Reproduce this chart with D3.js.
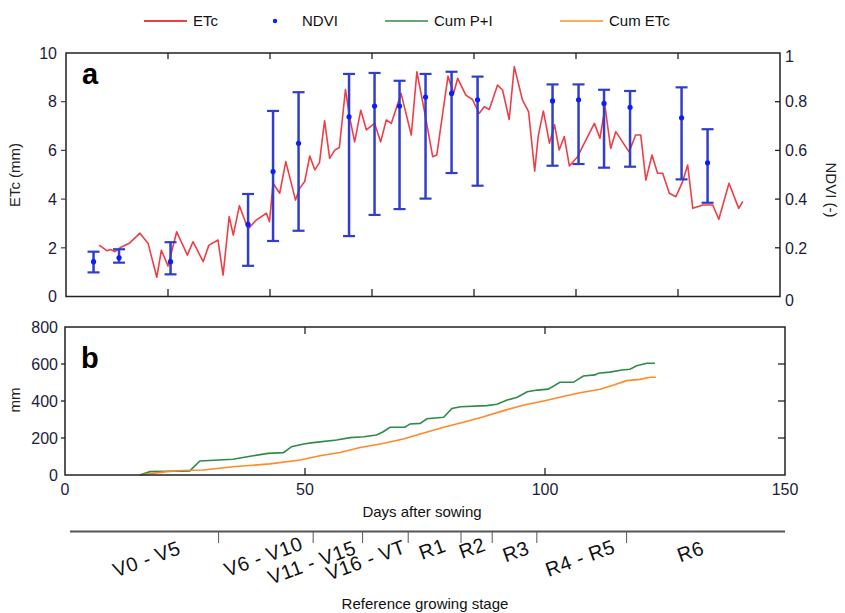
<!DOCTYPE html>
<html><head><meta charset="utf-8">
<script src="https://cdn.jsdelivr.net/npm/d3@7"></script>
<style>
html,body{margin:0;padding:0;background:#fff;}
svg text{font-family:"Liberation Sans",Arial,sans-serif;}
</style></head>
<body><svg id="c" width="845" height="613"></svg>
<script>
// ---------- DATA ----------
const etcDays = [6.5,8.0,8.75,9.6,10.6,12.5,14.5,16.1,17.8,18.7,20.0,21.7,23.8,24.9,26.9,28.0,29.8,30.8,32.0,32.8,34.0,35.7,37.3,39.3,39.9,40.6,41.9,43.1,45.0,45.8,46.8,47.8,48.8,49.7,50.7,51.7,52.7,53.6,54.8,55.6,56.6,57.8,58.9,60.5,61.7,62.8,63.8,65.7,67.7,68.8,70.3,71.9,72.7,74.9,76.0,76.8,78.4,79.7,81.0,82.0,83.0,84.6,85.6,86.9,87.9,89.5,90.7,91.9,92.6,93.6,94.8,95.8,96.7,97.7,98.7,100.3,103.6,104.7,105.7,106.8,107.8,110.4,111.7,112.7,113.7,114.9,116.0,117.0,118.3,119.6,120.9,121.9,122.9,124.9,126.8,128.0,130.0,131.9,132.7];
const etcValues = [2.11,1.88,1.93,1.84,2.0,2.2,2.6,2.18,0.79,1.9,1.25,2.66,1.7,2.25,1.43,2.1,2.32,0.88,3.28,2.52,3.73,2.77,3.14,3.42,3.07,4.65,4.24,5.54,3.96,4.44,4.72,5.77,5.2,5.5,7.22,5.67,6.01,6.12,8.5,7.38,6.35,7.65,6.84,7.11,6.35,7.25,7.11,8.34,6.63,9.23,7.59,5.74,5.81,9.05,8.34,8.96,8.27,8.09,7.52,7.79,7.68,8.68,8.48,7.27,9.44,8.07,7.59,5.15,6.6,7.62,6.3,7.05,6.02,6.57,5.36,5.74,7.11,6.5,7.79,6.08,6.77,5.94,6.63,6.63,4.78,5.81,5.06,5.06,4.24,4.1,4.72,5.4,3.62,3.76,3.76,3.17,4.65,3.62,3.9];

const ndviDays = [5.4,10.4,20.5,35.7,40.6,45.6,55.5,60.5,65.4,70.5,75.6,80.7,95.4,100.5,105.5,110.6,120.7,125.8];
const ndviMean = [0.143,0.159,0.143,0.296,0.513,0.629,0.738,0.782,0.782,0.819,0.834,0.808,0.803,0.808,0.793,0.777,0.734,0.549];
const ndviHigh = [0.184,0.194,0.223,0.421,0.762,0.839,0.914,0.918,0.886,0.914,0.923,0.903,0.871,0.871,0.849,0.844,0.859,0.687];
const ndviLow  = [0.099,0.139,0.091,0.126,0.228,0.270,0.248,0.335,0.359,0.402,0.507,0.455,0.537,0.544,0.529,0.533,0.481,0.385];

const cumPIDays = [15.6,17.7,21.2,24.4,26.0,28.1,35.0,39.2,42.3,45.5,47.2,49.7,51.7,56.6,59.4,62.2,64.9,66.3,67.7,70.8,71.9,74.0,75.4,78.9,80.6,82.4,87.9,90.0,92.1,94.2,96.3,98.4,100.7,103.1,105.9,108.0,110.4,111.1,113.5,116.0,117.7,119.1,121.2,122.9];
const cumPI = [0,18,20,21,22,76,85,104,117,121,153,168,175,189,202,207,216,234,258,258,276,279,304,312,360,369,375,382,405,420,450,459,464,501,501,535,541,550,556,568,572,590,604,604];

const cumETcDays = [15.6,21.2,24.4,28.8,35.0,42.7,49.0,53.1,57.3,61.5,65.7,70.5,74.0,78.9,83.0,87.2,91.4,95.6,99.7,103.1,107.3,111.5,114.3,117.0,119.8,121.9,123.1];
const cumETc = [0,18,24,27,45,60,81,104,122,149,168,195,222,258,285,315,348,378,400,420,445,463,486,510,517,528,528];

const stageNames = ["V0 - V5","V6 - V10","V11 - V15","V16 - VT","R1","R2","R3","R4 - R5","R6"];
const stageCenters = [17.0,41.3,51.4,62.6,76.5,84.8,93.9,107.3,130.3];
const stageBounds = [32.0,51.7,62.0,71.5,82.5,89.0,98.3,117.0];

const etcTicks = [0,2,4,6,8,10];
const ndviTicks = [0,0.2,0.4,0.6,0.8,1];
const topDayTicks = [20,40,60,80,100,120];
const mmTicks = [0,200,400,600,800];
const dayTicks = [0,50,100,150];

const legendNames = ["ETc","NDVI","Cum P+I","Cum ETc"];

// ---------- STYLE ----------
const C_ETC = "#ef3e46", C_NDVI = "#2f3fcb", C_DOT = "#0a1eff", C_PI = "#2f8a4a", C_CETC = "#ff8a26";

const svg = d3.select("#c");
svg.append("rect").attr("width",845).attr("height",613).attr("fill","#fff");

// ---------- PANEL A ----------
const xa = d3.scaleLinear().domain([0,140]).range([66,780]);
const ya = d3.scaleLinear().domain([0,10]).range([296.5,53]);
const yn = d3.scaleLinear().domain([0,1]).range([296.5,53]);

const ga = svg.append("g");
ga.append("path").datum(etcDays.map((d,i)=>[d,etcValues[i]]))
  .attr("fill","none").attr("stroke",C_ETC).attr("stroke-width",1.6).attr("stroke-linejoin","round")
  .attr("d", d3.line().x(d=>xa(d[0])).y(d=>ya(d[1])));
const eb = ga.selectAll("g.eb").data(ndviDays.map((d,i)=>({d,m:ndviMean[i],lo:ndviLow[i],hi:ndviHigh[i]}))).join("g");
eb.append("line").attr("x1",d=>xa(d.d)).attr("x2",d=>xa(d.d)).attr("y1",d=>yn(d.lo)).attr("y2",d=>yn(d.hi))
  .attr("stroke",C_NDVI).attr("stroke-width",2.5);
eb.append("line").attr("x1",d=>xa(d.d)-6).attr("x2",d=>xa(d.d)+6).attr("y1",d=>yn(d.lo)).attr("y2",d=>yn(d.lo))
  .attr("stroke",C_NDVI).attr("stroke-width",2.2);
eb.append("line").attr("x1",d=>xa(d.d)-6).attr("x2",d=>xa(d.d)+6).attr("y1",d=>yn(d.hi)).attr("y2",d=>yn(d.hi))
  .attr("stroke",C_NDVI).attr("stroke-width",2.2);
eb.append("circle").attr("cx",d=>xa(d.d)).attr("cy",d=>yn(d.m)).attr("r",2.6).attr("fill",C_DOT);

ga.append("rect").attr("x",66).attr("y",53).attr("width",714).attr("height",243.5)
  .attr("fill","none").attr("stroke","#222").attr("stroke-width",1.5);
topDayTicks.forEach(t=>{
  ga.append("line").attr("x1",xa(t)).attr("x2",xa(t)).attr("y1",53).attr("y2",59).attr("stroke","#222").attr("stroke-width",1.3);
  ga.append("line").attr("x1",xa(t)).attr("x2",xa(t)).attr("y1",296.5).attr("y2",289).attr("stroke","#222").attr("stroke-width",1.3);
});
etcTicks.forEach(t=>{
  if(t>0 && t<10) ga.append("line").attr("x1",61).attr("x2",66).attr("y1",ya(t)).attr("y2",ya(t)).attr("stroke","#444").attr("stroke-width",1.2);
  ga.append("text").attr("x",57).attr("y",ya(t)).attr("dy","0.36em").attr("text-anchor","end")
    .attr("font-size",16).attr("fill","#1c1c3a").text(t);
});
ndviTicks.forEach(t=>{
  if(t>0 && t<1) ga.append("line").attr("x1",775).attr("x2",780).attr("y1",yn(t)).attr("y2",yn(t)).attr("stroke","#222").attr("stroke-width",1.3);
  ga.append("text").attr("x",785).attr("y",yn(t)+(t===0?4:(t===1?3:0))).attr("dy","0.36em").attr("text-anchor","start")
    .attr("font-size",16).attr("fill","#1c1c3a").text(t);
});
ga.append("text").attr("transform","translate(20,175) rotate(-90)").attr("text-anchor","middle")
  .attr("font-size",15).attr("fill","#222").text("ETc (mm)");
ga.append("text").attr("transform","translate(826,190) rotate(90)").attr("text-anchor","middle")
  .attr("font-size",15).attr("fill","#222").text("NDVI (-)");
ga.append("text").attr("x",82).attr("y",84).attr("font-size",29).attr("font-weight","bold").attr("fill","#000").text("a");

// ---------- PANEL B ----------
const xb = d3.scaleLinear().domain([0,150]).range([65,785]);
const yb = d3.scaleLinear().domain([0,800]).range([475,327]);
const gb = svg.append("g");
gb.append("path").datum(cumPIDays.map((d,i)=>[d,cumPI[i]]))
  .attr("fill","none").attr("stroke",C_PI).attr("stroke-width",1.6)
  .attr("d", d3.line().x(d=>xb(d[0])).y(d=>yb(d[1])));
gb.append("path").datum(cumETcDays.map((d,i)=>[d,cumETc[i]]))
  .attr("fill","none").attr("stroke",C_CETC).attr("stroke-width",1.6)
  .attr("d", d3.line().x(d=>xb(d[0])).y(d=>yb(d[1])));
gb.append("rect").attr("x",65).attr("y",327).attr("width",720).attr("height",148)
  .attr("fill","none").attr("stroke","#222").attr("stroke-width",1.5);
dayTicks.forEach(t=>{
  if(t>0 && t<150){
    gb.append("line").attr("x1",xb(t)).attr("x2",xb(t)).attr("y1",327).attr("y2",334).attr("stroke","#222").attr("stroke-width",1.3);
    gb.append("line").attr("x1",xb(t)).attr("x2",xb(t)).attr("y1",475).attr("y2",468).attr("stroke","#222").attr("stroke-width",1.3);
  }
  gb.append("text").attr("x",xb(t)).attr("y",495).attr("text-anchor","middle")
    .attr("font-size",16).attr("fill","#1c1c3a").text(t);
});
mmTicks.forEach(t=>{
  if(t>0 && t<800){
    gb.append("line").attr("x1",61).attr("x2",65).attr("y1",yb(t)).attr("y2",yb(t)).attr("stroke","#222").attr("stroke-width",1.3);
    gb.append("line").attr("x1",778).attr("x2",785).attr("y1",yb(t)).attr("y2",yb(t)).attr("stroke","#222").attr("stroke-width",1.3);
  }
  gb.append("text").attr("x",58).attr("y",yb(t)).attr("dy","0.36em").attr("text-anchor","end")
    .attr("font-size",16).attr("fill","#1c1c3a").text(t);
});
gb.append("text").attr("transform","translate(20,400) rotate(-90)").attr("text-anchor","middle")
  .attr("font-size",15).attr("fill","#222").text("mm");
gb.append("text").attr("x",422).attr("y",517).attr("text-anchor","middle")
  .attr("font-size",15).attr("fill","#111").text("Days after sowing");
gb.append("text").attr("x",81).attr("y",368).attr("font-size",29).attr("font-weight","bold").attr("fill","#000").text("b");

// ---------- STAGE AXIS ----------
const gs = svg.append("g");
gs.append("line").attr("x1",70).attr("x2",785).attr("y1",531.5).attr("y2",531.5).attr("stroke","#555").attr("stroke-width",2);
stageBounds.forEach(b=>{
  gs.append("line").attr("x1",xb(b)).attr("x2",xb(b)).attr("y1",531.5).attr("y2",543).attr("stroke","#555").attr("stroke-width",1);
});
const stageDy = [559,556.5,562.5,560,549,548,551.5,558,551.5];
stageNames.forEach((s,i)=>{
  gs.append("text").attr("transform",`translate(${xb(stageCenters[i])},${stageDy[i]}) rotate(-20)`)
    .attr("text-anchor","middle").attr("dy","0.35em")
    .attr("font-family","Lato, 'Open Sans', sans-serif").attr("font-size",20).attr("letter-spacing","0.5px")
    .attr("fill","#111").text(s);
});
gs.append("text").attr("x",425).attr("y",609).attr("text-anchor","middle")
  .attr("font-size",15).attr("fill","#111").text("Reference growing stage");

// ---------- LEGEND ----------
const gl = svg.append("g");
const lgY = 21;
const lgX = [144,270,385,560];
const lgColors = [C_ETC,C_DOT,C_PI,C_CETC];
legendNames.forEach((n,i)=>{
  if(i===1){
    gl.append("circle").attr("cx",lgX[i]+5).attr("cy",lgY).attr("r",2.2).attr("fill",C_DOT);
    gl.append("text").attr("x",lgX[i]+32).attr("y",lgY).attr("dy","0.36em").attr("font-size",15).attr("fill","#111").text(n);
  } else {
    gl.append("line").attr("x1",lgX[i]).attr("x2",lgX[i]+43).attr("y1",lgY).attr("y2",lgY)
      .attr("stroke",lgColors[i]).attr("stroke-width",i===0?2.2:1.6);
    gl.append("text").attr("x",lgX[i]+49).attr("y",lgY).attr("dy","0.36em").attr("font-size",15).attr("fill","#111").text(n);
  }
});
</script></body></html>
